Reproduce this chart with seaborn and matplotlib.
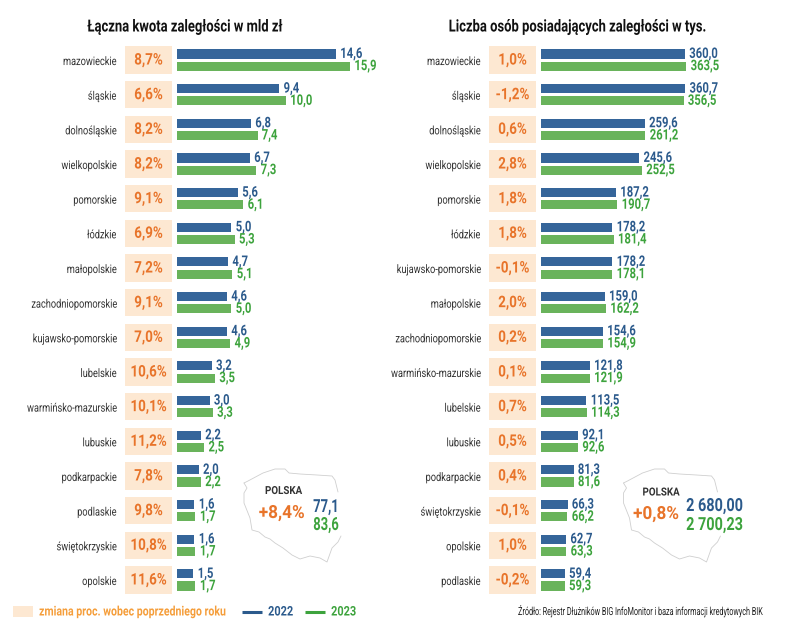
import pandas as pd
import seaborn as sns
import matplotlib.pyplot as plt
import matplotlib.patheffects as pe
from matplotlib.patches import Rectangle
from matplotlib.transforms import Affine2D, blended_transform_factory

# data
regions_left = ['mazowieckie', 'śląskie', 'dolnośląskie', 'wielkopolskie', 'pomorskie', 'łódzkie', 'małopolskie',
                'zachodniopomorskie', 'kujawsko-pomorskie', 'lubelskie', 'warmińsko-mazurskie', 'lubuskie',
                'podkarpackie', 'podlaskie', 'świętokrzyskie', 'opolskie']
amount_2022 = [14.6, 9.4, 6.8, 6.7, 5.6, 5.0, 4.7, 4.6, 4.6, 3.2, 3.0, 2.2, 2.0, 1.6, 1.6, 1.5]
amount_2023 = [15.9, 10.0, 7.4, 7.3, 6.1, 5.3, 5.1, 5.0, 4.9, 3.5, 3.3, 2.5, 2.2, 1.7, 1.7, 1.7]
amount_change = ['8,7%', '6,6%', '8,2%', '8,2%', '9,1%', '6,9%', '7,2%', '9,1%', '7,0%', '10,6%', '10,1%', '11,2%',
                 '7,8%', '9,8%', '10,8%', '11,6%']

regions_right = ['mazowieckie', 'śląskie', 'dolnośląskie', 'wielkopolskie', 'pomorskie', 'łódzkie',
                 'kujawsko-pomorskie', 'małopolskie', 'zachodniopomorskie', 'warmińsko-mazurskie', 'lubelskie',
                 'lubuskie', 'podkarpackie', 'świętokrzyskie', 'opolskie', 'podlaskie']
people_2022 = [360.0, 360.7, 259.6, 245.6, 187.2, 178.2, 178.2, 159.0, 154.6, 121.8, 113.5, 92.1, 81.3, 66.3, 62.7, 59.4]
people_2023 = [363.5, 356.5, 261.2, 252.5, 190.7, 181.4, 178.1, 162.2, 154.9, 121.9, 114.3, 92.6, 81.6, 66.2, 63.3, 59.3]
people_change = ['1,0%', '-1,2%', '0,6%', '2,8%', '1,8%', '1,8%', '-0,1%', '2,0%', '0,2%', '0,1%', '0,7%', '0,5%',
                 '0,4%', '-0,1%', '1,0%', '-0,2%']

# outline of Poland in pixels, used as a decoration
map_x = [244, 248, 263, 275, 285, 289, 300, 317, 332, 335, 338]
map_y = [483, 481, 473, 469, 469, 473, 474, 475, 476, 480, 492]
map_x2 = [341, 338, 332, 327, 320, 310, 300, 292, 283, 275, 270, 265, 259, 252, 250, 244, 244, 247, 244]
map_y2 = [536, 542, 548, 562, 558, 556, 559, 555, 548, 543, 539, 537, 532, 530, 518, 503, 493, 488, 483]

BLUE = '#35659A'
GREEN = '#69B35B'
BLUE_TXT = '#2B5A8C'
GREEN_TXT = '#3DA33D'
ORANGE = '#E8742A'
PINK = '#FDE8D2'
W, H = 788, 630


class Condense(pe.AbstractPathEffect):
    # no condensed font installed, so squeeze the glyphs around the text anchor
    def __init__(self, k, ha):
        super().__init__()
        self.k = k
        self.ha = ha

    def draw_path(self, renderer, gc, tpath, affine, rgbFace=None):
        ext = tpath.get_extents()
        cx = {'left': ext.x0, 'center': (ext.x0 + ext.x1) / 2, 'right': ext.x1}[self.ha]
        squeeze = Affine2D().translate(-cx, 0).scale(self.k, 1).translate(cx, 0)
        renderer.draw_path(gc, tpath, squeeze + affine, rgbFace)


def cond(text, k):
    text.set_path_effects([Condense(k, text.get_ha())])
    return text


sns.set_theme(style='white')
plt.rcParams['font.family'] = ['Roboto', 'DejaVu Sans']


def draw_panel(fig, regions, v22, v23, changes, left, right, xmax, box_x):
    df = pd.DataFrame({'region': regions * 2,
                       'value': v22 + v23,
                       'year': ['2022'] * len(regions) + ['2023'] * len(regions)})
    ax = fig.add_axes([left / W, 1 - 597.3 / H, (right - left) / W, (597.3 - 42.7) / H])
    sns.barplot(data=df, y='region', x='value', hue='year', palette=[BLUE, GREEN], width=0.704, gap=0.247,
                saturation=1, linewidth=0, legend=False, ax=ax)
    ax.set_xlim(0, xmax)
    ax.set_xlabel('')
    ax.set_ylabel('')
    ax.set_xticks([])
    # names end 61 px left of the bars in both panels
    ax.tick_params(axis='y', length=0, pad=61 * 0.72, labelsize=8.5, labelcolor='#333333')
    for t in ax.get_yticklabels():
        cond(t, 0.78)
    sns.despine(ax=ax, left=True, bottom=True)
    ax.patch.set_alpha(0)

    for cont, vals, col in zip(ax.containers, [v22, v23], [BLUE_TXT, GREEN_TXT]):
        labels = ax.bar_label(cont, labels=[f'{v:.1f}'.replace('.', ',') for v in vals], padding=3, color=col,
                              fontsize=10.5, fontweight='bold')
        for t in labels:
            cond(t, 0.77)

    # percentage boxes left of the bars
    trans = blended_transform_factory(fig.transFigure, ax.transData)
    for i, c in enumerate(changes):
        ax.add_patch(Rectangle((box_x / W, i - 0.398), 47 / W, 0.796, transform=trans, facecolor=PINK,
                               edgecolor='none', clip_on=False))
        cond(ax.text((box_x + 23.5) / W, i, c, transform=trans, ha='center', va='center', color=ORANGE,
                     fontsize=11.5, fontweight='bold'), 0.84)
    return ax


fig = plt.figure(figsize=(W / 100, H / 100), dpi=100)

# overlay in pixel coordinates for map, titles and legend
over = fig.add_axes([0, 0, 1, 1])
over.set_xlim(0, W)
over.set_ylim(H, 0)
over.axis('off')

draw_panel(fig, regions_left, amount_2022, amount_2023, amount_change, 177, 385, 208 / 10.88, 125)
draw_panel(fig, regions_right, people_2022, people_2023, people_change, 541, 770, 229 / 0.4, 489)


def label(x, y, s, size, color, k, ha='left', weight='bold'):
    return cond(over.text(x, y, s, ha=ha, va='center', fontsize=size, fontweight=weight, color=color), k)


label(184.5, 27, 'Łączna kwota zaległości w mld zł', 12, '#111111', 0.78, ha='center')
label(577, 27, 'Liczba osób posiadających zaległości w tys.', 12, '#111111', 0.78, ha='center')

for dx in [0, 379.5]:
    over.plot([x + dx for x in map_x], map_y, color='#cfcfcf', lw=0.6)
    over.plot([x + dx for x in map_x2], map_y2, color='#cfcfcf', lw=0.6)

# left summary
label(283.5, 491, 'POLSKA', 8, '#333333', 0.88, ha='center')
label(281.7, 513, '+8,4%', 13, ORANGE, 0.95, ha='center')
label(313, 507, '77,1', 13, BLUE_TXT, 0.72)
label(313, 525, '83,6', 13, GREEN_TXT, 0.72)

# right summary
label(661, 492.5, 'POLSKA', 8, '#333333', 0.88, ha='center')
label(656, 514, '+0,8%', 13, ORANGE, 0.95, ha='center')
label(686, 506, '2 680,00', 13, BLUE_TXT, 0.8)
label(686, 525, '2 700,23', 13, GREEN_TXT, 0.8)

# legend row
over.add_patch(Rectangle((13, 606), 20, 11, facecolor=PINK, edgecolor='none'))
label(39, 612, 'zmiana proc. wobec poprzedniego roku', 9.5, '#F59E3B', 0.8)
over.plot([242, 262], [612, 612], color='#2B5A8C', lw=2.2, solid_capstyle='butt')
label(268, 612, '2022', 9.5, BLUE_TXT, 0.83)
over.plot([305, 325], [612, 612], color=GREEN_TXT, lw=2.2, solid_capstyle='butt')
label(331, 612, '2023', 9.5, GREEN_TXT, 0.83)
label(763, 611, 'Źródło: Rejestr Dłużników BIG InfoMonitor i baza informacji kredytowych BIK', 8, '#222222', 0.65,
      ha='right', weight='normal')

plt.savefig('out.png', dpi=100)
